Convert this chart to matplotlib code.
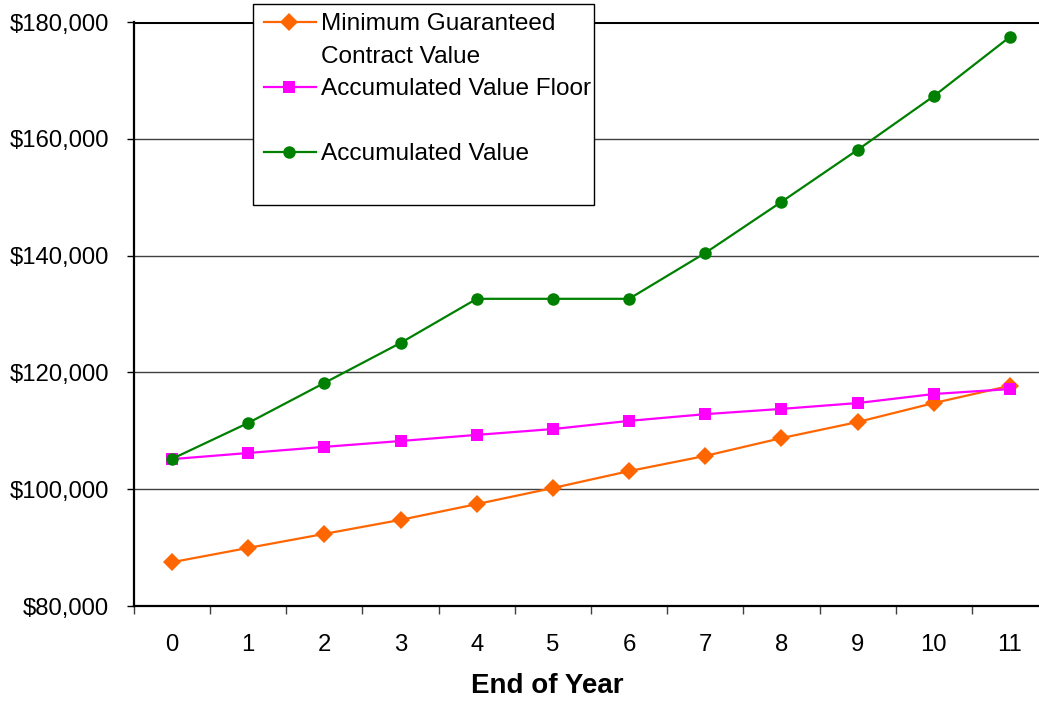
import matplotlib
matplotlib.use("Agg")
import matplotlib.pyplot as plt
from matplotlib.lines import Line2D
from matplotlib.patches import Rectangle
from matplotlib.ticker import FuncFormatter, MultipleLocator

plt.rcParams['font.family'] = ['Liberation Sans', 'DejaVu Sans']

years = list(range(12))
min_guaranteed = [87500, 89950, 92350, 94750, 97450, 100200,
                  103100, 105700, 108750, 111500, 114750, 117700]
value_floor = [105150, 106200, 107250, 108250, 109300, 110300,
               111700, 112850, 113750, 114750, 116300, 117150]
accumulated = [105200, 111350, 118200, 125050, 132600, 132600,
               132600, 140450, 149200, 158100, 167300, 177450]

series_labels = ["Minimum Guaranteed\nContract Value",
                 "Accumulated Value Floor",
                 "Accumulated Value"]
colors = ['#FF6600', '#FF00FF', '#008000']
markers = ['D', 's', 'o']
msizes = [9.5, 8, 9]

W, H = 1039, 702
fig = plt.figure(figsize=(W / 100, H / 100), dpi=100)
ax = fig.add_axes([134 / W, 1 - 606 / H, (1048 - 134) / W, (606 - 22) / H])

for vals, c, m, ms, z in zip([min_guaranteed, value_floor, accumulated],
                             colors, markers, msizes, [3, 4, 5]):
    ax.plot(years, vals, color=c, lw=1.6, marker=m, markersize=ms,
            markeredgewidth=0, zorder=z, clip_on=False)

ax.set_xlim(-0.5, 11.5)
ax.set_ylim(80000, 180000)
ax.yaxis.set_major_locator(MultipleLocator(20000))
ax.yaxis.set_major_formatter(FuncFormatter(lambda v, p: "${:,.0f}".format(v)))
ax.set_xticks(years)
ax.set_xticks([x + 0.5 for x in range(-1, 12)], minor=True)

ax.grid(axis='y', color='#404040', lw=1.0, zorder=1)
ax.axhline(180000, color='black', lw=2.2, zorder=2)
for s in ['top', 'right']:
    ax.spines[s].set_visible(False)
for s in ['left', 'bottom']:
    ax.spines[s].set_linewidth(1.6)
    ax.spines[s].set_color('black')

ax.tick_params(axis='y', length=5, width=1, labelsize=17.2, pad=13)
ax.tick_params(axis='x', which='major', length=0, labelsize=17.2, pad=20)
ax.tick_params(axis='x', which='minor', length=6, width=1, color='#404040')
ax.set_xlabel("End of Year", fontsize=20, fontweight='bold')
ax.xaxis.set_label_coords((547 - 134) / 914, -(686 - 606) / 584, transform=ax.transAxes)
ax.xaxis.label.set_va('center')


def fx(px):
    return px / W


def fy(py):
    return 1 - py / H


# legend box drawn in figure pixels to match the spreadsheet layout
fig.add_artist(Rectangle((fx(253), fy(205)), fx(594) - fx(253), fy(4) - fy(205),
                         transform=fig.transFigure, facecolor='white',
                         edgecolor='black', lw=1.0, zorder=10))
rows = [22, 87, 152]
for label, c, m, ms, ry in zip(series_labels, colors, markers, msizes, rows):
    fig.add_artist(Line2D([fx(264), fx(316)], [fy(ry), fy(ry)], color=c, lw=1.6,
                          transform=fig.transFigure, zorder=11))
    fig.add_artist(Line2D([fx(289)], [fy(ry)], color=c, marker=m, markersize=ms,
                          markeredgewidth=0, transform=fig.transFigure, zorder=12))
    fig.text(fx(321), fy(ry - 9), label, fontsize=17.6, va='top', ha='left',
             linespacing=1.62, zorder=12)

fig.savefig("out.png", dpi=100)
